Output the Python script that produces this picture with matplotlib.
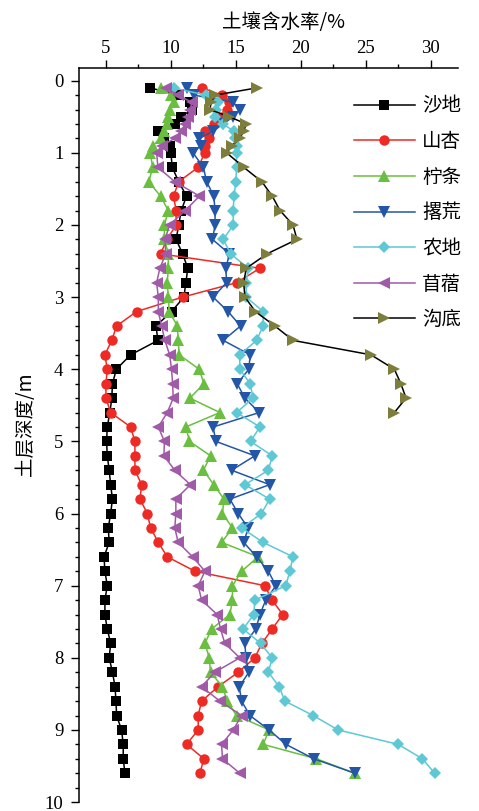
import matplotlib
matplotlib.use('Agg')
import matplotlib.pyplot as plt
from matplotlib.ticker import MultipleLocator

# depth of each sampling layer (m): 0.1 m steps in the first metre, then 0.2 m
depth = [0.1, 0.2, 0.3, 0.4, 0.5, 0.6, 0.7, 0.8, 0.9, 1.0,
         1.2, 1.4, 1.6, 1.8, 2.0, 2.2, 2.4, 2.6, 2.8, 3.0,
         3.2, 3.4, 3.6, 3.8, 4.0, 4.2, 4.4, 4.6, 4.8, 5.0,
         5.2, 5.4, 5.6, 5.8, 6.0, 6.2, 6.4, 6.6, 6.8, 7.0,
         7.2, 7.4, 7.6, 7.8, 8.0, 8.2, 8.4, 8.6, 8.8, 9.0,
         9.2, 9.4, 9.6]

# soil water content (%) per land use
sand = [8.4, 10.6, 11.5, 11.6, 10.8, 10.3, 9.0, 9.5, 9.9, 10.0,
        10.1, 10.6, 11.2, 10.8, 10.6, 10.4, 10.9, 11.3, 11.15, 11.0,
        10.05, 8.85, 9.0, 6.9, 5.8, 5.5, 5.45, 5.3, 5.1, 5.05,
        5.1, 5.25, 5.36, 5.5, 5.36, 5.18, 5.25, 4.85, 4.92, 5.1,
        4.92, 4.92, 5.1, 5.36, 5.25, 5.5, 5.7, 5.77, 5.82, 6.2,
        6.33, 6.33, 6.46]
apricot = [12.4, 13.9, 14.5, 14.3, 13.9, 13.3, 12.6, 12.9, 12.6, 12.6,
           12.1, 10.6, 10.2, 10.4, 10.4, 9.7, 9.2, 16.85, 15.05, 10.9,
           7.36, 5.82, 5.44, 4.92, 5.1, 5.0, 5.0, 5.36, 6.9, 7.23,
           7.23, 7.23, 7.75, 7.62, 8.18, 8.44, 9.03, 9.72, 11.85, 17.23,
           17.8, 18.6, 17.8, 17.0, 16.46, 15.18, 13.64, 12.36, 12.1, 12.1,
           11.2, 12.54, 12.23]
caragana = [9.2, 10.0, 10.2, 9.9, 9.8, 9.67, 9.5, 9.2, 8.6, 8.4,
            8.6, 8.3, 9.2, 9.8, 9.5, 9.5, 9.8, 9.8, 9.72, 9.8,
            9.87, 10.5, 10.56, 10.64, 12.18, 12.54, 11.46, 13.77, 11.15, 11.43,
            13.05, 12.5, 13.3, 14.08, 13.97, 14.74, 13.9, 16.72, 15.44, 14.74,
            14.74, 14.54, 13.13, 12.62, 12.95, 13.05, 13.97, 14.33, 15.05, 17.56,
            17.1, 21.2, 24.15]
abandoned = [11.2, 11.8, 14.8, 15.3, 14.8, 14.0, 13.25, 12.2, 12.3, 11.7,
             12.5, 12.75, 13.3, 13.4, 13.4, 13.2, 14.5, 14.23, 14.28, 13.25,
             14.4, 15.36, 14.03, 16.1, 16.0, 15.1, 15.7, 16.8, 13.25, 13.46,
             16.46, 14.67, 17.6, 14.54, 15.18, 15.95, 15.6, 16.6, 17.5, 18.08,
             17.3, 16.85, 16.54, 15.7, 15.77, 16.0, 15.26, 15.44, 16.08, 17.56,
             18.85, 21.0, 24.15]
farmland = [10.2, 12.7, 13.6, 13.5, 13.4, 14.0, 14.85, 14.9, 15.05, 15.05,
            15.05, 15.0, 14.85, 14.8, 14.8, 14.03, 14.6, 15.95, 15.8, 15.8,
            17.1, 17.1, 16.59, 15.3, 15.3, 16.1, 16.33, 15.05, 16.85, 16.13,
            17.8, 17.5, 15.7, 17.6, 16.97, 15.44, 17.1, 19.4, 19.15, 18.85,
            16.46, 16.38, 15.56, 16.9, 17.8, 17.5, 18.33, 18.77, 20.95, 22.87,
            27.5, 29.36, 30.3]
alfalfa = [9.6, 10.56, 11.6, 11.5, 11.3, 11.1, 10.8, 10.3, 9.3, 8.9,
           9.0, 10.3, 12.2, 11.1, 9.9, 9.54, 9.6, 9.15, 8.9, 9.03,
           9.03, 9.28, 9.54, 9.9, 10.05, 10.13, 10.18, 9.72, 9.03, 9.5,
           9.46, 10.3, 11.5, 10.38, 10.38, 10.3, 10.56, 11.67, 12.62, 12.1,
           12.36, 13.56, 13.82, 14.15, 15.3, 13.38, 12.36, 13.77, 15.44, 14.8,
           13.9, 13.97, 15.3]
# gully bottom only sampled down to 4.6 m
gully = [16.6, 13.4, 13.1, 13.0, 14.5, 15.8, 15.6, 15.3, 14.7, 14.3,
         15.6, 17.0, 17.8, 18.4, 19.4, 19.7, 17.4, 15.8, 15.6, 15.7,
         16.5, 18.0, 19.4, 25.4, 27.2, 27.7, 28.1, 27.2]

labels = ['沙地', '山杏', '柠条', '撂荒', '农地', '苜蓿', '沟底']
series = [sand, apricot, caragana, abandoned, farmland, alfalfa, gully]
line_colors = ['black', '#ee2a24', '#6abf40', '#2356a6', '#5ec8d4', '#a05aa8', 'black']
marker_colors = ['black', '#ee2a24', '#6abf40', '#2356a6', '#5ec8d4', '#a05aa8', '#7d7d3c']
markers = ['s', 'o', '^', 'v', 'D', '<', '>']
msizes = [6.5, 7.5, 8.5, 8.5, 6.5, 8.5, 8.5]

cjk = ['Noto Sans CJK SC', 'DejaVu Sans']
plt.rcParams['font.family'] = ['Liberation Serif', 'Noto Sans CJK SC']

fig = plt.figure(figsize=(4.79, 8.11), dpi=100)
ax = fig.add_axes([0.1656, 0.011, 0.7906, 0.9055])

for vals, lab, lc, mc, m, ms in zip(series, labels, line_colors, marker_colors, markers, msizes):
    ax.plot(vals, depth[:len(vals)], color=lc, lw=1.1, marker=m, ms=ms,
            mfc=mc, mec=mc, mew=0, label=lab)

ax.set_xlim(2.95, 32.1)
ax.set_ylim(10.0, -0.18)

ax.xaxis.tick_top()
ax.xaxis.set_major_locator(MultipleLocator(5))
ax.xaxis.set_minor_locator(MultipleLocator(2.5))
ax.yaxis.set_major_locator(MultipleLocator(1))
ax.yaxis.set_minor_locator(MultipleLocator(0.2))
ax.tick_params(which='major', direction='out', length=5.5, width=1.0, labelsize=13.5)
ax.tick_params(axis='x', which='major', pad=2)
ax.tick_params(axis='y', which='major', pad=6)
ax.tick_params(which='minor', direction='out', length=3, width=1.0)
ax.tick_params(axis='x', which='both', top=True, bottom=False)

for side in ['right', 'bottom']:
    ax.spines[side].set_visible(False)
for side in ['top', 'left']:
    ax.spines[side].set_linewidth(1.1)

ax.xaxis.set_label_position('top')
ax.set_xlabel('土壤含水率/%', family=cjk, fontsize=14)
ax.xaxis.set_label_coords(0.54, 1.054)
ax.set_ylabel('土层深度/m', family=cjk, fontsize=14)
ax.yaxis.set_label_coords(-0.115, 0.515)

leg = ax.legend(loc='upper left', bbox_to_anchor=(0.726, 0.962), frameon=False,
                prop={'family': cjk, 'size': 14}, handlelength=3.1,
                handletextpad=0.4, labelspacing=0.75, borderpad=0, borderaxespad=0)

fig.savefig('out.png', dpi=100)
